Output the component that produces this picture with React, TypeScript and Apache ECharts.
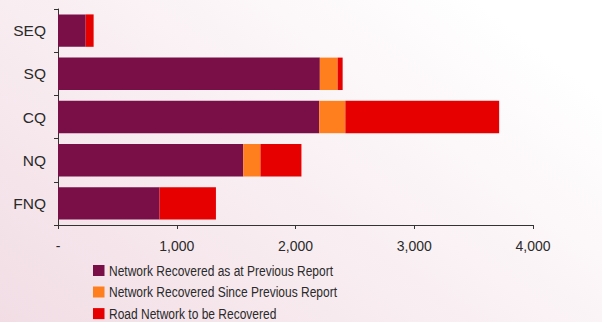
import React, { useEffect, useRef } from "react";
import * as echarts from "echarts";

const categories = ["SEQ", "SQ", "CQ", "NQ", "FNQ"];
const seriesNames = [
  "Network Recovered as at Previous Report",
  "Network Recovered Since Previous Report",
  "Road Network to be Recovered",
];
const recoveredPrevious = [233, 2205, 2200, 1560, 855];
const recoveredSince = [0, 150, 220, 145, 0];
const toBeRecovered = [67, 42, 1295, 345, 475];
const xTicks = [0, 1000, 2000, 3000, 4000];
const colors = ["#7a0f48", "#ff7f1e", "#e60000"];

export default function App() {
  const ref = useRef<HTMLDivElement>(null);
  useEffect(() => {
    document.body.style.margin = "0";
    const chart = echarts.init(ref.current!, null, { renderer: "svg" });
    const font = "'Liberation Sans', Arial, sans-serif";
    const data = [recoveredPrevious, recoveredSince, toBeRecovered];
    const legendY = [270.5, 292, 313.6];
    const legendGraphics: any[] = [];
    seriesNames.forEach((name, i) => {
      legendGraphics.push({
        type: "rect",
        x: 93,
        y: legendY[i] - 5.5,
        shape: { width: 11.5, height: 11 },
        style: { fill: colors[i] },
      });
      legendGraphics.push({
        type: "text",
        x: 109,
        y: legendY[i] + 0.5,
        scaleX: 0.8,
        style: {
          text: name,
          fill: "#2a2a2a",
          font: "15px 'Liberation Sans', Arial, sans-serif",
          textVerticalAlign: "middle",
          textAlign: "left",
        },
      });
    });
    chart.setOption({
      animation: false,
      backgroundColor: {
        type: "linear",
        x: 0,
        y: 1,
        x2: 1,
        y2: 0.3,
        colorStops: [
          { offset: 0, color: "#f2dde5" },
          { offset: 1, color: "#ffffff" },
        ],
      },
      textStyle: { fontFamily: font },
      grid: { left: 58, right: 69, top: 9, bottom: 97, containLabel: false },
      graphic: legendGraphics,
      xAxis: {
        type: "value",
        min: xTicks[0],
        max: xTicks[xTicks.length - 1],
        interval: 1000,
        splitLine: { show: false },
        axisLine: { show: true, lineStyle: { color: "#333", width: 1 } },
        axisTick: { show: true, length: 4, lineStyle: { color: "#333" } },
        axisLabel: {
          fontSize: 14,
          color: "#2a2a2a",
          margin: 14,
          formatter: (v: number) => (v === 0 ? "-" : v.toLocaleString("en-US")),
        },
      },
      yAxis: {
        type: "category",
        inverse: true,
        data: categories,
        axisLine: { show: true, lineStyle: { color: "#333", width: 1 } },
        axisTick: { show: true, length: 4, lineStyle: { color: "#333" } },
        axisLabel: { fontSize: 15.5, color: "#2a2a2a", margin: 12 },
      },
      series: seriesNames.map((name, i) => ({
        name,
        type: "bar",
        stack: "total",
        data: data[i],
        barCategoryGap: "25%",
        itemStyle: { color: colors[i] },
      })),
    });
    return () => chart.dispose();
  }, []);
  return <div ref={ref} style={{ width: 602, height: 322 }} />;
}
